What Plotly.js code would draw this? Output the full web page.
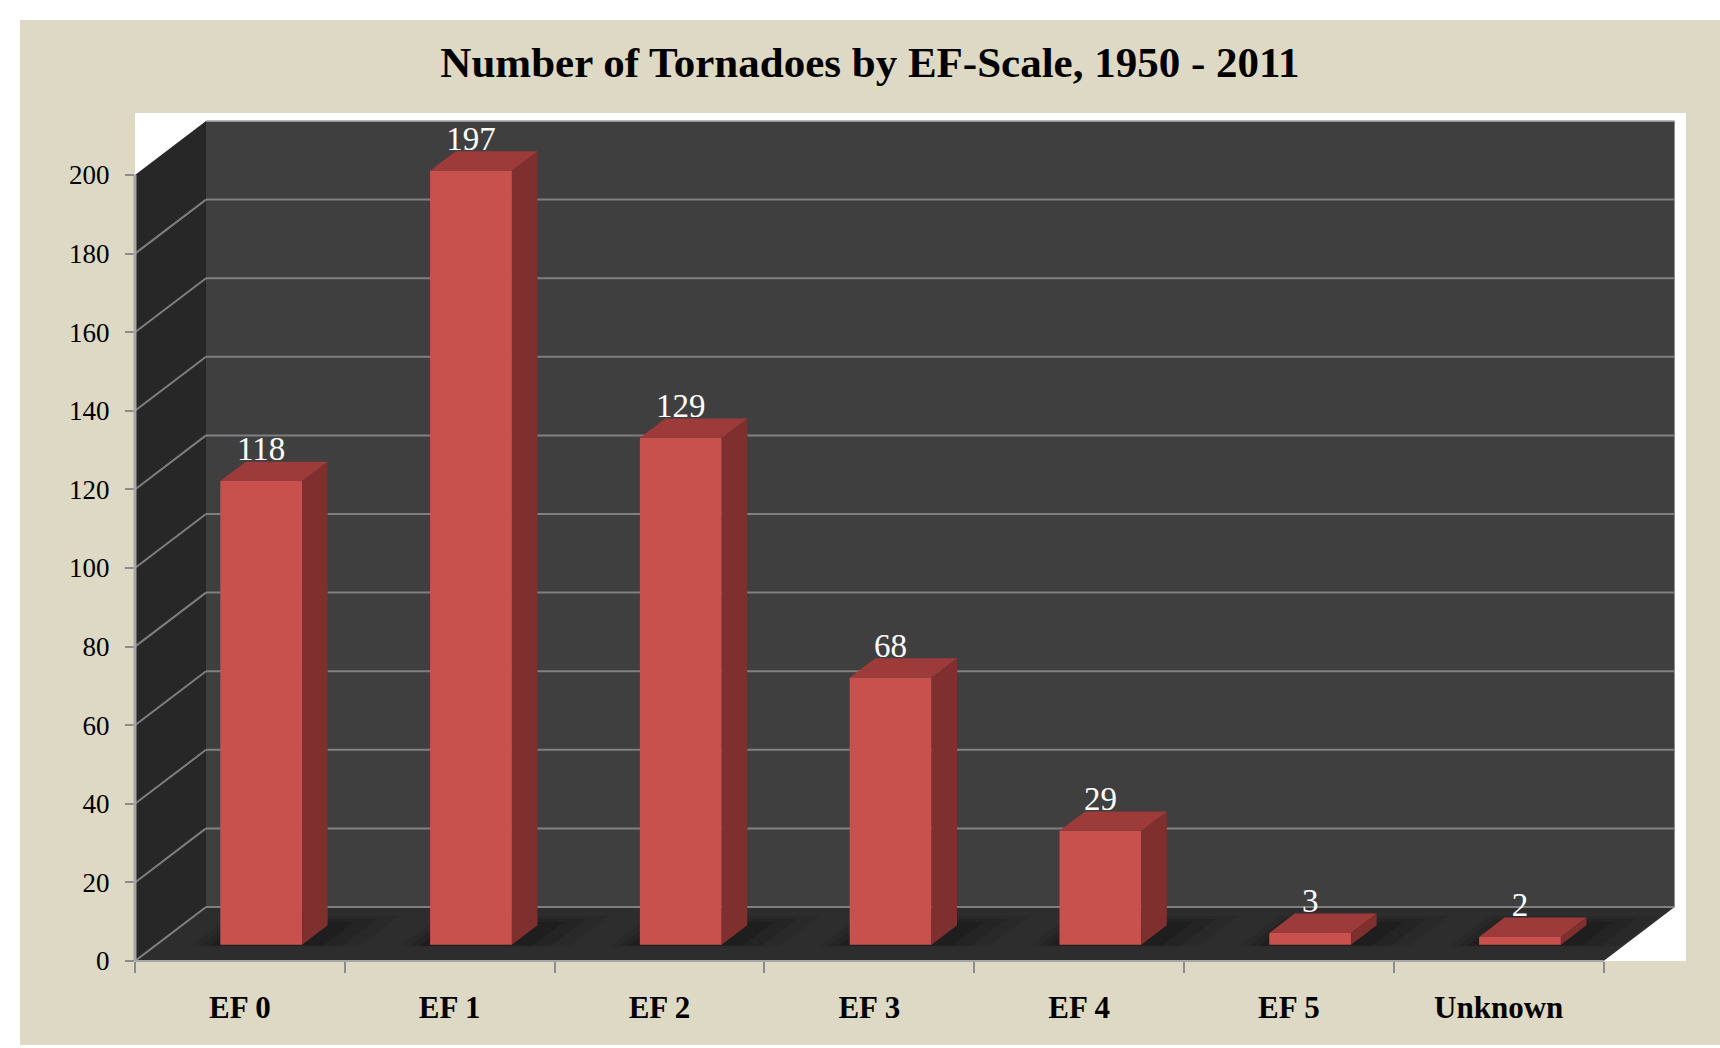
<!DOCTYPE html>
<html>
<head>
<meta charset="utf-8">
<script src="https://cdn.plot.ly/plotly-3.0.1.min.js"></script>
<style>
  html, body { margin: 0; padding: 0; background: #ffffff; }
  #chart { position: absolute; left: 20px; top: 20px; width: 1700px; height: 1025px; }
</style>
</head>
<body>
<div id="chart"></div>
<script>
// ---- data ----
const categories = ['EF 0', 'EF 1', 'EF 2', 'EF 3', 'EF 4', 'EF 5', 'Unknown'];
const tornadoes = [118, 197, 129, 68, 29, 3, 2];
const yTickValues = [0, 20, 40, 60, 80, 100, 120, 140, 160, 180, 200];
const chartTitle = 'Number of Tornadoes by EF-Scale, 1950 - 2011';

// ---- pseudo-3D geometry (styling) ----
const DX = 0.3384;   // depth offset in category units
const DY = 13.74;    // depth offset in value units
const F1 = 0.30;     // bar front depth fraction
const F2 = 0.66;     // bar back depth fraction
const BARW = 0.39;   // bar width in category units
const N = categories.length;
const YMAX = yTickValues[yTickValues.length - 1];

const C_FRONT = 'rgb(200,80,77)';
const C_SIDE = 'rgb(127,47,45)';
const C_TOP = 'rgb(156,59,57)';
const C_GRID = 'rgba(135,135,135,0.9)';

const centers = categories.map((c, i) => i + 0.5);
const dDX = (F2 - F1) * DX, dDY = (F2 - F1) * DY;
const base = F1 * DY;

function poly(pts) {
  return 'M ' + pts.map(p => p[0] + ',' + p[1]).join(' L ') + ' Z';
}

// ---- background walls and gridlines as shapes ----
const shapes = [];
shapes.push({type: 'path', xref: 'x', yref: 'y', layer: 'below',
  path: poly([[0, 0], [DX, DY], [DX, YMAX + DY], [0, YMAX]]),
  fillcolor: '#272727', line: {width: 0}});
shapes.push({type: 'path', xref: 'x', yref: 'y', layer: 'below',
  path: poly([[0, 0], [N, 0], [N + DX, DY], [DX, DY]]),
  fillcolor: '#2d2d2d', line: {width: 0}});
shapes.push({type: 'rect', xref: 'x', yref: 'y', layer: 'below',
  x0: DX, x1: N + DX, y0: DY, y1: YMAX + DY,
  fillcolor: '#3f3f3f', line: {width: 0}});
yTickValues.forEach(v => {
  shapes.push({type: 'line', xref: 'x', yref: 'y', layer: 'below',
    x0: DX, x1: N + DX, y0: v + DY, y1: v + DY,
    line: {color: v === YMAX ? 'rgba(170,170,170,0.8)' : C_GRID, width: 2}});
  if (v < YMAX) {
    shapes.push({type: 'line', xref: 'x', yref: 'y', layer: 'below',
      x0: 0, x1: DX, y0: v, y1: v + DY,
      line: {color: C_GRID, width: 2}});
  }
});
// soft shadows around bar bases on the floor
tornadoes.forEach((v, i) => {
  const xl = centers[i] - BARW / 2, xr = centers[i] + BARW / 2;
  [[0.22, 0.07], [0.15, 0.11], [0.08, 0.16]].forEach(([m, op]) => {
    const d0 = F1 - m * 0.15, d1 = Math.min(F2 + m * 0.8, 0.97);
    shapes.push({type: 'path', xref: 'x', yref: 'y', layer: 'below',
      path: poly([
        [xl - m * 0.6 + d0 * DX, d0 * DY],
        [xr + m * 1.3 + d0 * DX, d0 * DY],
        [xr + m * 1.3 + d1 * DX, d1 * DY],
        [xl - m * 0.6 + d1 * DX, d1 * DY]]),
      fillcolor: 'rgba(0,0,0,' + op + ')', line: {width: 0}});
  });
});
// axis lines (front plane)
shapes.push({type: 'line', xref: 'x', yref: 'paper', layer: 'above',
  x0: 0, x1: N, y0: 0, y1: 0, line: {color: '#a6a6a6', width: 2}});
shapes.push({type: 'line', xref: 'paper', yref: 'y', layer: 'above',
  x0: 0, x1: 0, y0: 0, y1: YMAX, line: {color: '#a6a6a6', width: 3}});

// ---- bar faces ----
const frontX = centers.map(c => c + F1 * DX);
const sideX = [], sideY = [], topX = [], topY = [];
tornadoes.forEach((v, i) => {
  const xl = centers[i] - BARW / 2 + F1 * DX;
  const xr = centers[i] + BARW / 2 + F1 * DX;
  const yb = base, yt = base + v;
  sideX.push(xr, xr, xr + dDX, xr + dDX, xr, null);
  sideY.push(yb, yt, yt + dDY, yb + dDY, yb, null);
  topX.push(xl, xr, xr + dDX, xl + dDX, xl, null);
  topY.push(yt, yt, yt + dDY, yt + dDY, yt, null);
});

const traces = [
  {type: 'bar', x: frontX, y: tornadoes, base: base, width: BARW,
   marker: {color: C_FRONT, line: {width: 0}}, hoverinfo: 'skip', showlegend: false},
  {type: 'scatter', mode: 'lines', x: sideX, y: sideY, fill: 'toself',
   fillcolor: C_SIDE, line: {width: 0, color: C_SIDE}, hoverinfo: 'skip', showlegend: false},
  {type: 'scatter', mode: 'lines', x: topX, y: topY, fill: 'toself',
   fillcolor: C_TOP, line: {width: 0, color: C_TOP}, hoverinfo: 'skip', showlegend: false},
  {type: 'scatter', mode: 'text', x: frontX, y: tornadoes.map(v => v + 11.5),
   text: tornadoes.map(String), textposition: 'middle center', cliponaxis: false,
   textfont: {family: 'Liberation Serif, serif', size: 33, color: '#ffffff'},
   hoverinfo: 'skip', showlegend: false}
];

const layout = {
  width: 1700, height: 1025,
  paper_bgcolor: '#ddd9c4', plot_bgcolor: '#ffffff',
  margin: {l: 115, r: 34, t: 93, b: 84, pad: 0},
  showlegend: false,
  title: {text: chartTitle, x: 0.5, xref: 'container', xanchor: 'center',
    y: 1 - 41.5 / 1025, yref: 'container', yanchor: 'middle',
    font: {family: 'Liberation Serif, serif', size: 43, color: '#000000', weight: 'bold'}},
  xaxis: {range: [0, 7.3928], showgrid: false, zeroline: false, showline: false,
    tickmode: 'array', tickvals: centers, ticktext: categories, ticks: '',
    ticklabelstandoff: 25,
    tickfont: {family: 'Liberation Serif, serif', size: 31, color: '#000000', weight: 'bold'},
    minor: {tickmode: 'array', tickvals: categories.map((c, i) => i).concat([N]),
      ticks: 'outside', ticklen: 11, tickwidth: 2, tickcolor: '#8c8c8c', showgrid: false},
    fixedrange: true},
  yaxis: {range: [0, 215.78], showgrid: false, zeroline: false, showline: false,
    tickmode: 'array', tickvals: yTickValues, ticks: 'outside', ticklen: 9,
    tickwidth: 2, tickcolor: '#8c8c8c', ticklabelstandoff: 10,
    tickfont: {family: 'Liberation Serif, serif', size: 27, color: '#000000'},
    fixedrange: true},
  shapes: shapes
};

Plotly.newPlot('chart', traces, layout, {displayModeBar: false, staticPlot: true});
</script>
</body>
</html>
